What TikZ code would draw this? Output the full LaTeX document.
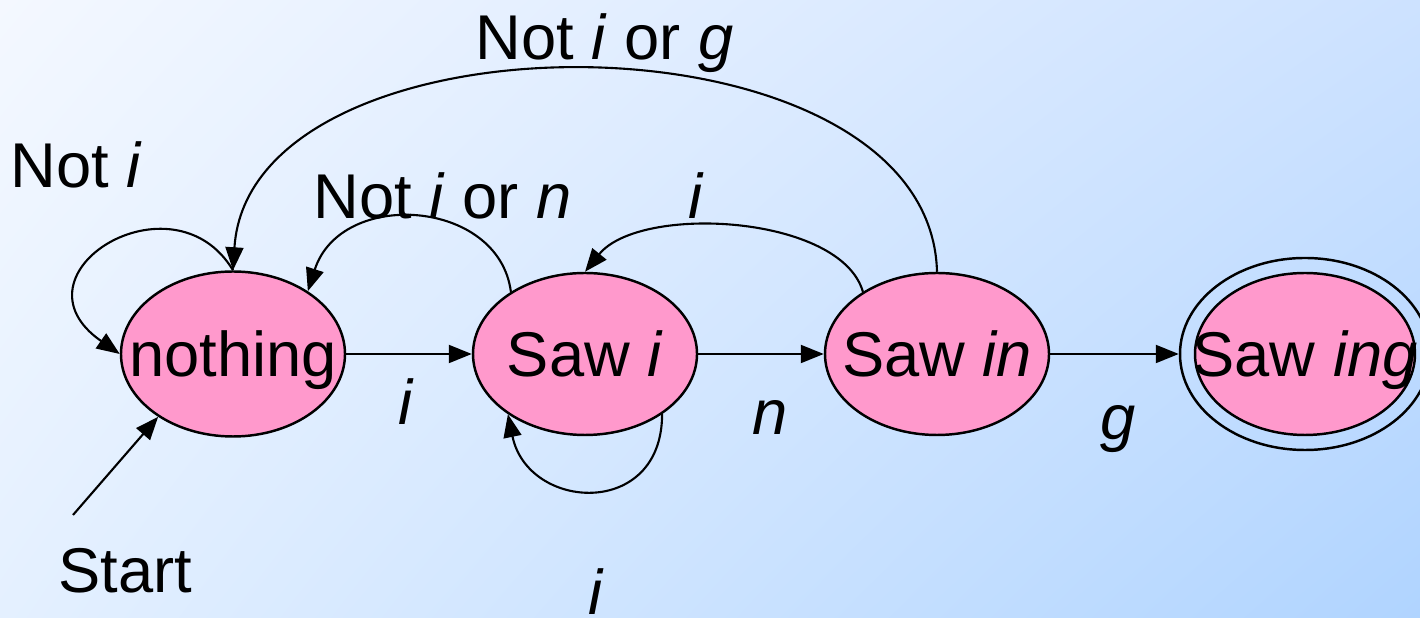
\documentclass[tikz,border=0pt]{standalone}
\usepackage{fontspec}
\setmainfont{Liberation Sans}
\usepackage{xcolor}
\usetikzlibrary{arrows.meta,shapes.geometric,shadings}
\definecolor{stpink}{HTML}{FF99CC}
\definecolor{bgtl}{HTML}{F4F8FF}
\definecolor{bgtr}{HTML}{CDE2FF}
\definecolor{bgbl}{HTML}{E4F0FF}
\definecolor{bgbr}{HTML}{B0D4FF}
\newcommand{\stname}[1]{\makebox[0pt]{#1}}

\begin{document}
\begin{tikzpicture}[
  font=\fontsize{18pt}{22pt}\selectfont,
  state/.style={ellipse, draw, line width=0.7pt, fill=stpink, minimum width=2.24cm, minimum height=1.62cm, inner sep=0pt, text height=0.45cm, text depth=0pt},
  ring/.style={ellipse, draw, line width=0.7pt, minimum width=2.5cm, minimum height=1.92cm, inner sep=0pt},
  arr/.style={-{Triangle[length=2.3mm,width=1.8mm]}, line width=0.6pt},
  lab/.style={anchor=base west, inner sep=0pt},
]
% ---- background ----
\useasboundingbox (0,0) rectangle (14.2,6.18);
\shade[upper left=bgtl, upper right=bgtr, lower left=bgbl, lower right=bgbr] (0,0) rectangle (14.2,6.18);

% ---- states ----
\node[state, minimum height=1.65cm] (nothing) at (2.33,2.64) {\stname{nothing}};
\node[state] (sawi)  at (5.85,2.64) {\stname{Saw \textit{i}}};
\node[state] (sawin) at (9.37,2.64) {\stname{Saw \textit{in}}};
\node[ring] (sawring) at (13.05,2.64) {};
\node[state, minimum width=2.2cm] (sawing) at (13.05,2.64) {\stname{Saw \textit{ing}}};
\coordinate (startpt) at (0.73,1.03);

% ---- forward edges ----
\draw[arr] (startpt) -- (nothing.220);
\draw[arr] (nothing.east) -- (sawi.west);
\draw[arr] (sawi.east) -- (sawin.west);
\draw[arr] (sawin.east) -- (sawring.west);

% ---- back edges and loops ----
\draw[arr] (nothing.north) .. controls +(-0.6,1.0) and +(-1.15,0.8) .. (nothing.west);
\draw[arr] (sawi.140) .. controls +(-0.12,0.93) and +(0.33,1.03) .. (nothing.40);
\draw[arr] (sawi.-38) .. controls +(0,-1.05) and +(0.2,-0.97) .. (sawi.218);
\draw[arr] (sawin.140) .. controls +(-0.22,0.77) and +(0.55,0.68) .. (sawi.north);
\draw[arr] (sawin.north) .. controls +(-0.07,2.68) and +(0.17,2.68) .. (nothing.north);

% ---- labels ----
\node[lab] (lnoti)    at (0.10,4.30) {Not \textit{i}};
\node[lab] (lnotiorg) at (4.75,5.58) {Not \textit{i} or \textit{g}};
\node[lab] (lnotiorn) at (3.13,3.99) {Not \textit{i} or \textit{n}};
\node[lab] (lbacki)   at (6.88,3.99) {\textit{i}};
\node[lab] (lfwdi)    at (3.98,1.93) {\textit{i}};
\node[lab] (lfwdn)    at (7.52,1.83) {\textit{n}};
\node[lab] (lfwdg)    at (11.0,1.78) {\textit{g}};
\node[lab] (lstart)   at (0.58,0.25) {Start};
\node[lab] (lloopi)   at (5.88,0.03) {\textit{i}};
\end{tikzpicture}
\end{document}
